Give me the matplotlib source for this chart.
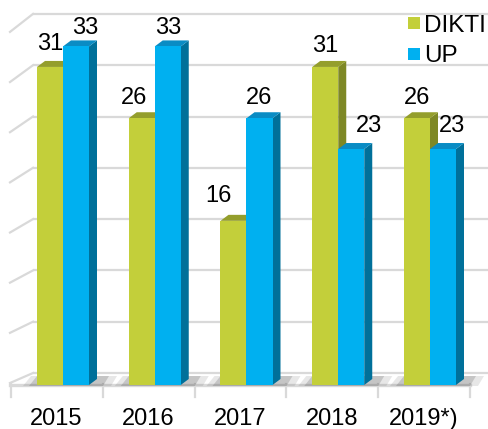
import numpy as np
import matplotlib.pyplot as plt
from matplotlib.patches import Polygon, Rectangle

years = ['2015', '2016', '2017', '2018', '2019*)']
dikti = [31, 26, 16, 31, 26]
up = [33, 33, 26, 23, 23]
series_names = ['DIKTI', 'UP']
grid_values = [0, 5, 10, 15, 20, 25, 30, 35]

# colours: front, top, side
colors = {
    'DIKTI': ('#C3CF3A', '#949E2C', '#7E8825'),
    'UP': ('#00B0F0', '#0A8CC4', '#00709A'),
}
# label nudges in pixels (dx, gap above bar front top)
label_nudge = {
    'DIKTI': [(0, 17), (-8, 14), (-15, 19), (0, 15), (0, 14)],
    'UP': [(9, 12), (0, 12), (0, 14), (18, 17), (9, 17)],
}

W, H = 489, 429
fig = plt.figure(figsize=(W / 100, H / 100), dpi=100)
ax = fig.add_axes([0, 0, 1, 1])

PX = 91.75   # pixels per category
PY = 10.26   # pixels per value unit
X0, Y0 = 63, 385   # pixel of first group centre / value 0 on the front plane


def tx(p):
    return (p - X0) / PX


def ty(p):
    return (Y0 - p) / PY


ax.set_xlim(tx(0), tx(W))
ax.set_ylim(ty(H), ty(0))
ax.axis('off')

grid_c = '#D9D9D9'
back = 12 / PY   # back wall sits 12px above the front plane

# back wall and left wall gridlines
for v in grid_values:
    yb = v + back
    ax.plot([tx(33), tx(W + 5)], [yb, yb], color=grid_c, lw=1.6, zorder=1,
            solid_capstyle='butt')
    drop = (10 + 8 * v / 35) / PY
    ax.plot([tx(33), tx(10)], [yb, yb - drop], color=grid_c, lw=1.6, zorder=1)

# floor front edge and ticks
ax.plot([tx(10), tx(470)], [ty(384.5), ty(384.5)], color=grid_c, lw=2.4, zorder=1)
for k in range(len(years) + 1):
    xt = tx(11) + k
    ax.plot([xt, xt], [ty(384), ty(397)], color=grid_c, lw=1.6, zorder=1)

w = 26 / PX
dx, dy = 8 / PX, 6 / PY
x = np.arange(len(years))

# floor shadows
for i in x:
    for a, (l, r) in [(0.12, (i - w - 14 / PX, i + w + dx + 14 / PX)),
                      (0.2, (i - w - 8 / PX, i + w + dx + 6 / PX))]:
        ax.add_patch(Polygon([(l, ty(386)), (r, ty(386)), (r + 6 / PX, ty(376)),
                              (l + 8 / PX, ty(376))], closed=True,
                             facecolor='#404040', edgecolor='none', alpha=a,
                             zorder=2))

for s, (name, vals) in enumerate(zip(series_names, [dikti, up])):
    front, top, side = colors[name]
    for i, v in zip(x, vals):
        left = i - w if s == 0 else i
        right = left + w
        ax.add_patch(Polygon([(right, 0), (right + dx, dy), (right + dx, v + dy),
                              (right, v)], closed=True, facecolor=side,
                             edgecolor='none', zorder=3 + s))
        ax.add_patch(Polygon([(left, v), (right, v), (right + dx, v + dy),
                              (left + dx, v + dy)], closed=True, facecolor=top,
                             edgecolor='none', zorder=3 + s))
        ax.add_patch(Rectangle((left, 0), w, v, facecolor=front,
                               edgecolor='none', zorder=3 + s))
        ndx, gap = label_nudge[name][i]
        ax.text(left + w / 2 + ndx / PX, v + gap / PY, str(v), ha='center',
                va='baseline', fontsize=17, family='Liberation Sans', zorder=6)

for i, lab in zip(x, years):
    ax.text(tx(56.5) + i, ty(425), lab, ha='center', va='baseline',
            fontsize=17, family='Liberation Sans')

# legend drawn by hand so that it sits exactly where the original does
for k, name in enumerate(series_names):
    top_px = 17 + 31 * k
    fig.patches.append(Rectangle((408 / W, 1 - (top_px + 12) / H), 12 / W, 12 / H,
                                 transform=fig.transFigure,
                                 facecolor=colors[name][0], edgecolor='none'))
    fig.text(424 / W, 1 - (top_px + 6) / H, name, ha='left', va='center_baseline',
             fontsize=17.5, family='Liberation Sans')

fig.savefig('out.png', dpi=100)
